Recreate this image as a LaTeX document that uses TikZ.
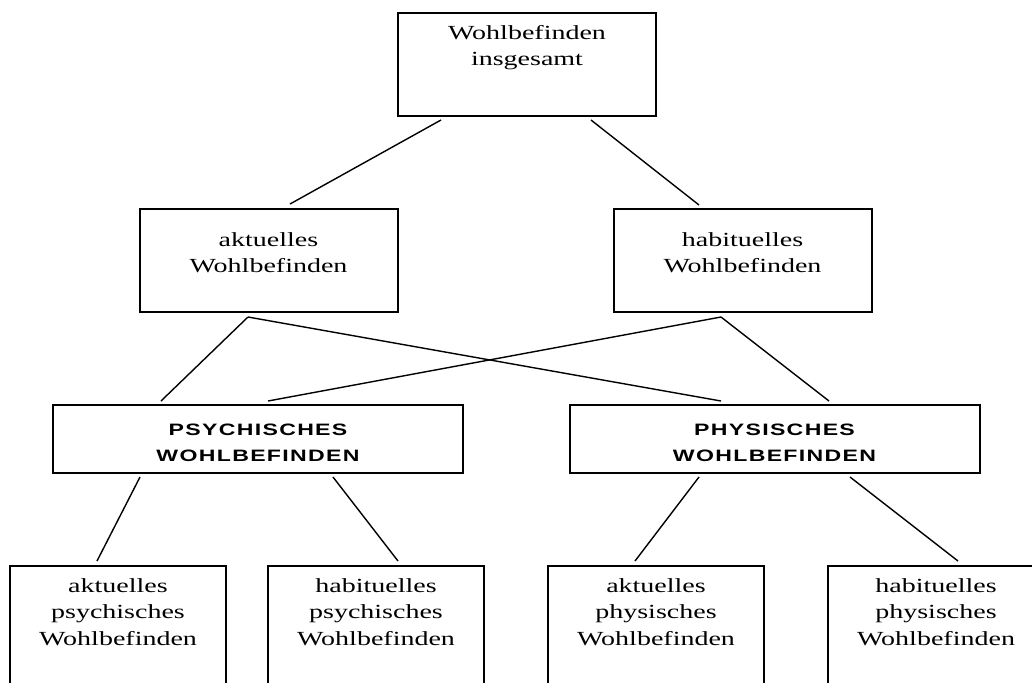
\documentclass[tikz,border=0pt]{standalone}
\usepackage{fontspec}
\setmainfont{Liberation Serif}[FakeStretch=1.4]
\newfontfamily\capsfont{Liberation Sans}[FakeStretch=1.4,LetterSpace=8]
\usetikzlibrary{positioning}
\tikzstyle{wbox} = [draw, line width=1pt, minimum width=129pt, minimum height=51.5pt, inner sep=0pt]
\tikzstyle{pbox} = [draw, line width=1pt, minimum width=205pt, minimum height=34pt, inner sep=0pt]
\tikzstyle{subbox} = [draw, line width=1pt, minimum width=108pt, minimum height=70pt, inner sep=0pt]
\tikzstyle{wtext} = [align=center, inner sep=0pt, anchor=north, font=\fontsize{10}{13.25}\selectfont]
\tikzstyle{ptext} = [align=center, inner sep=0pt, anchor=north, font=\capsfont\bfseries\fontsize{8.25}{13}\selectfont]
\tikzstyle{line} = [draw, line width=0.7pt]
\newcommand{\wbox}[1]{node (w#1) [wbox] {}}
\newcommand{\pbox}[1]{node (p#1) [pbox] {}}
\newcommand{\subbox}[1]{node (s#1) [subbox] {}}
\newcommand{\wtext}[2]{node (tw#1) [wtext] {#2}}
\newcommand{\ptext}[2]{node (tp#1) [ptext] {#2}}
\newcommand{\subtext}[2]{node (ts#1) [wtext] {#2}}
\begin{document}
\begin{tikzpicture}[x=0.5pt,y=-0.5pt]
\useasboundingbox (0,0) rectangle (1032,682);
\clip (0,0) rectangle (1032,682);

\path (527,64.5) \wbox{0};
\path ([yshift=-6.5pt]w0.north) \wtext{0}{Wohlbefinden\\insgesamt};

\path (w0)+(-258.5,196) \wbox{1};
\path ([yshift=-12pt]w1.north) \wtext{1}{aktuelles\\Wohlbefinden};
\path (w0)+(215.5,196) \wbox{2};
\path ([yshift=-12pt]w2.north) \wtext{2}{habituelles\\Wohlbefinden};
\path [line] ([shift={(-86,3)}]w0.south) -- ([shift={(21.5,-4)}]w1.north) node[] {};
\path [line] ([shift={(64,3)}]w0.south) -- ([shift={(-43.5,-3)}]w2.north) node[] {};

\path (w1)+(-10.5,178.5) \pbox{1};
\path ([yshift=-10pt]p1.north) \ptext{1}{PSYCHISCHES\\WOHLBEFINDEN};
\path (w2)+(32,178.5) \pbox{2};
\path ([yshift=-10pt]p2.north) \ptext{2}{PHYSISCHES\\WOHLBEFINDEN};
\path [line] ([shift={(-20.5,4)}]w1.south) -- ([shift={(-97,-3)}]p1.north) node[] {};
\path [line] ([shift={(-20.5,4)}]w1.south) -- ([shift={(-53.5,-3)}]p2.north) node[] {};
\path [line] ([shift={(-21.5,4)}]w2.south) -- ([shift={(10,-3)}]p1.north) node[] {};
\path [line] ([shift={(-21.5,4)}]w2.south) -- ([shift={(54.5,-3)}]p2.north) node[] {};

\path (p1)+(-140,197) \subbox{1};
\path ([yshift=-6.5pt]s1.north) \subtext{1}{aktuelles\\psychisches\\Wohlbefinden};
\path (p1)+(118,197) \subbox{2};
\path ([yshift=-6.5pt]s2.north) \subtext{2}{habituelles\\psychisches\\Wohlbefinden};
\path (p2)+(-118.5,197) \subbox{3};
\path ([yshift=-6.5pt]s3.north) \subtext{3}{aktuelles\\physisches\\Wohlbefinden};
\path (p2)+(161.5,197) \subbox{4};
\path ([yshift=-6.5pt]s4.north) \subtext{4}{habituelles\\physisches\\Wohlbefinden};
\path [line] ([shift={(-118,3)}]p1.south) -- ([shift={(-21,-4)}]s1.north) node[] {};
\path [line] ([shift={(75,3)}]p1.south) -- ([shift={(22,-4)}]s2.north) node[] {};
\path [line] ([shift={(-75.5,3)}]p2.south) -- ([shift={(-21,-4)}]s3.north) node[] {};
\path [line] ([shift={(75.5,3)}]p2.south) -- ([shift={(22,-4)}]s4.north) node[] {};
\end{tikzpicture}
\end{document}
